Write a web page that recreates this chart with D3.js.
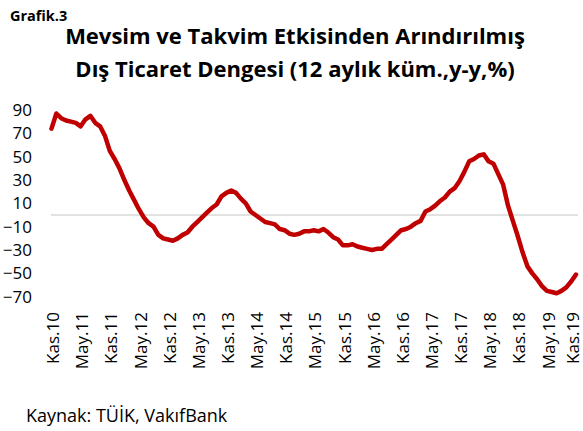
<!DOCTYPE html>
<html>
<head>
<meta charset="utf-8">
<script src="https://cdn.jsdelivr.net/npm/d3@7"></script>
<style>
body { margin: 0; background: #fff; }
text { font-family: "Open Sans", sans-serif; fill: #000; }
</style>
</head>
<body>
<div id="chart"></div>
<script>
var monthNames = ["Oca", "Şub", "Mar", "Nis", "May", "Haz", "Tem", "Ağu", "Eyl", "Eki", "Kas", "Ara"];

// Kas.10 ... Kas.19, 12 month cumulative, y-y %
var values = [
    74, 87, 83, 81, 80, 79, 76, 82, 85, 79, 76, 68,
    55, 48, 40, 30, 21, 13, 5, -2, -7, -10, -17, -20,
    -21, -22, -20, -17, -15, -10, -6, -2, 2, 6, 9, 16,
    19, 21, 19, 14, 10, 3, 0, -3, -6, -7, -8, -12,
    -13, -16, -17, -16, -14, -14, -13, -14, -12, -15, -19, -21,
    -26, -26, -25, -27, -28, -29, -30, -29, -29, -25, -21, -17,
    -13, -12, -10, -7, -5, 3, 5, 8, 12, 15, 20, 23,
    29, 37, 46, 48, 51, 52, 46, 44, 35, 26, 8, -5,
    -18, -32, -44, -50, -55, -61, -65, -66, -67, -65, -62, -57,
    -51
];

var tickLabels = ["Kas.10", "May.11", "Kas.11", "May.12", "Kas.12", "May.13", "Kas.13", "May.14",
    "Kas.14", "May.15", "Kas.15", "May.16", "Kas.16", "May.17", "Kas.17", "May.18", "Kas.18",
    "May.19", "Kas.19"];

var yTicks = [90, 70, 50, 30, 10, -10, -30, -50, -70];

// month label for every point
var categories = values.map(function (d, i) {
    var m = 10 + i;
    return monthNames[m % 12] + "." + (10 + Math.floor(m / 12));
});

var width = 583,
    height = 431;

var svg = d3.select("#chart")
    .append("svg")
    .attr("width", width)
    .attr("height", height);

var x = d3.scalePoint()
    .domain(categories)
    .range([51.5, 576]);

var y = d3.scaleLinear()
    .domain([-70, 90])
    .range([296.7, 110]);

// titles
svg.append("text")
    .attr("x", 10).attr("y", 20.5)
    .style("font-size", "14.5px").style("font-weight", "bold")
    .text("Grafik.3");

svg.append("text")
    .attr("x", 295).attr("y", 44)
    .style("text-anchor", "middle")
    .style("font-size", "22px").style("font-weight", "bold")
    .text("Mevsim ve Takvim Etkisinden Arındırılmış");

svg.append("text")
    .attr("x", 295).attr("y", 77)
    .style("text-anchor", "middle")
    .style("font-size", "22px").style("font-weight", "bold")
    .text("Dış Ticaret Dengesi (12 aylık küm.,y-y,%)");

// zero line
svg.append("line")
    .attr("x1", 51)
    .attr("x2", 578)
    .attr("y1", y(0))
    .attr("y2", y(0))
    .attr("stroke", "#d9d9d9")
    .attr("stroke-width", 1.5);

// Y axis
var yAxis = svg.append("g")
    .attr("transform", "translate(32,0)")
    .call(d3.axisLeft(y).tickValues(yTicks).tickSize(0).tickPadding(0));
yAxis.select(".domain").remove();
yAxis.selectAll("text")
    .style("font-family", "'Open Sans', sans-serif")
    .style("font-size", "17px");

// X axis, last label pulled in so it stays inside the page
var xAxis = svg.append("g")
    .attr("transform", "translate(0,312)")
    .call(d3.axisBottom(x).tickValues(tickLabels).tickSize(0));
xAxis.select(".domain").remove();
xAxis.selectAll("text")
    .attr("x", 0)
    .attr("y", 0)
    .attr("dy", function (d, i) { return i === tickLabels.length - 1 ? "0.12em" : "0.42em"; })
    .attr("transform", "rotate(-90)")
    .style("text-anchor", "end")
    .style("font-family", "'Open Sans', sans-serif")
    .style("font-size", "17px");

// line
var line = d3.line()
    .x(function (d, i) { return x(categories[i]); })
    .y(function (d) { return y(d); });

svg.append("path")
    .datum(values)
    .attr("d", line)
    .attr("fill", "none")
    .attr("stroke", "#c00000")
    .attr("stroke-width", 4.5)
    .attr("stroke-linejoin", "round")
    .attr("stroke-linecap", "round");

// source
svg.append("text")
    .attr("x", 26).attr("y", 422)
    .style("font-size", "18px")
    .text("Kaynak: TÜİK, VakıfBank");
</script>
</body>
</html>
